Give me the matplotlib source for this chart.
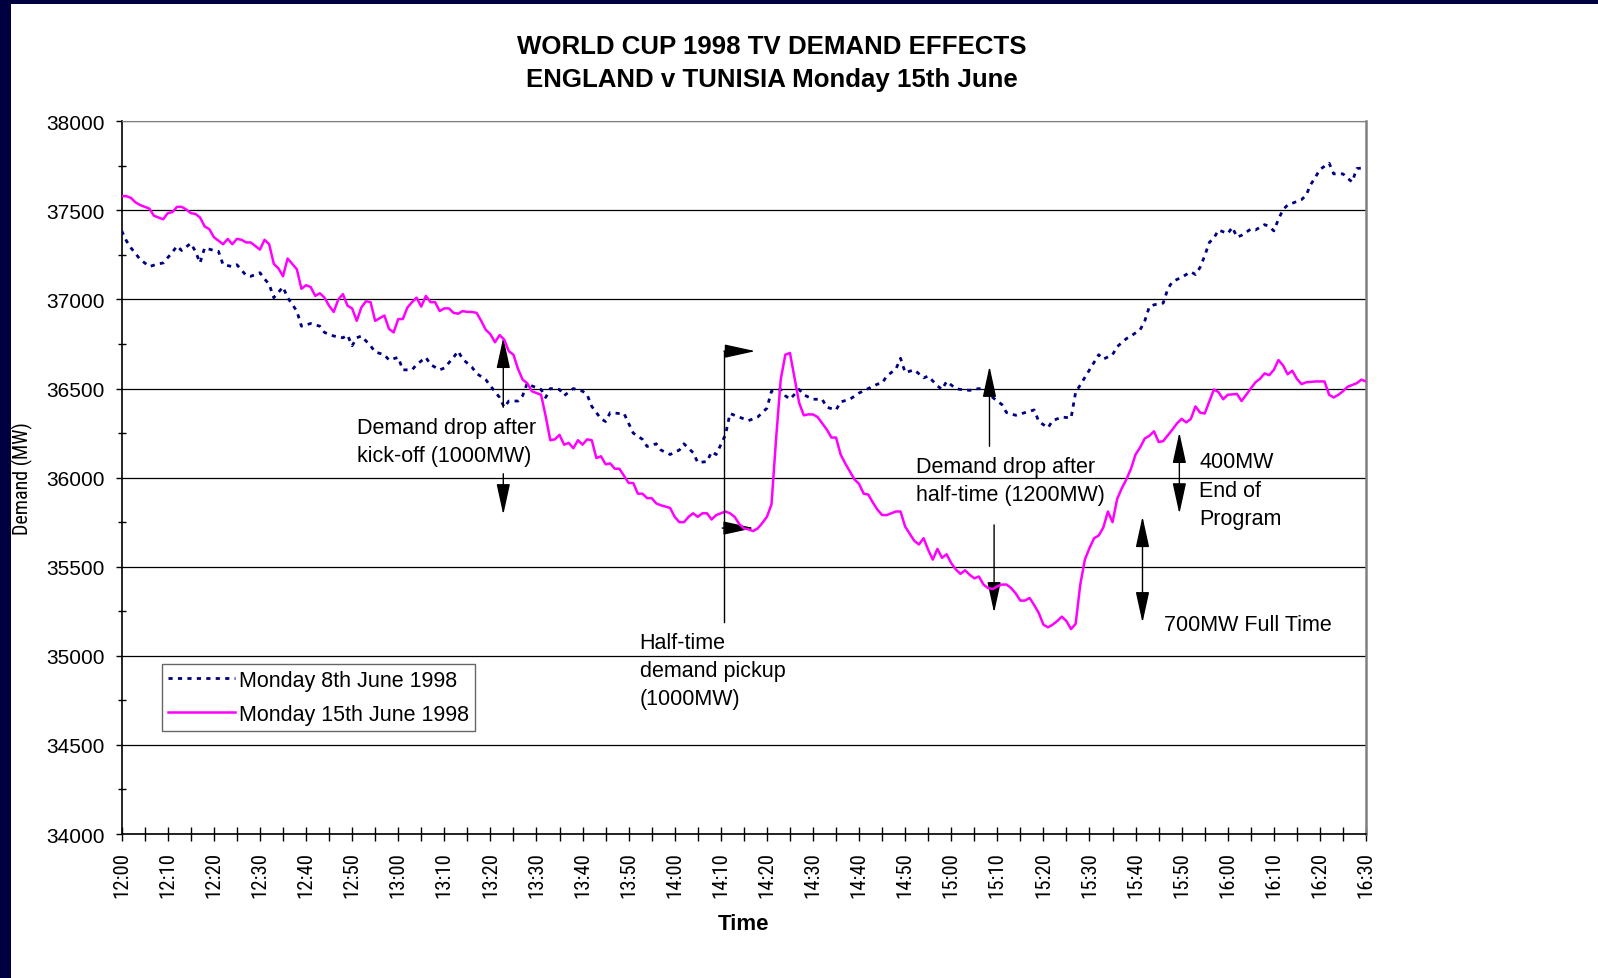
import matplotlib
matplotlib.use("Agg")
import matplotlib.pyplot as plt
from matplotlib import font_manager
from matplotlib.patches import Rectangle
from matplotlib.ticker import MultipleLocator

# minutes after 12:00 and demand (MW)
t_8th = [0, 1, 2, 4, 6, 8, 9, 11, 12, 13, 15, 16, 17, 18, 20, 21, 22, 24, 25, 27,
         28, 30, 31, 32, 33, 35, 36, 38, 39, 41, 43, 44, 46, 48, 49, 50, 51, 52, 54, 55,
         57, 58, 60, 61, 63, 64, 66, 67, 69, 70, 72, 73, 74, 76, 77, 79, 80, 82, 83, 84,
         86, 87, 88, 89, 91, 92, 93, 95, 96, 98, 100, 101, 102, 104, 105, 106, 108, 109, 111, 113,
         114, 116, 117, 119, 121, 122, 124, 125, 127, 128, 129, 130, 131, 132, 134, 136, 138, 140, 141, 143,
         144, 145, 147, 148, 150, 152, 153, 155, 156, 158, 160, 162, 164, 165, 166, 168, 169, 170, 172, 174,
         175, 177, 178, 179, 181, 182, 184, 186, 188, 189, 191, 192, 194, 196, 198, 199, 201, 202, 204, 206,
         207, 208, 210, 212, 213, 215, 216, 218, 219, 221, 222, 223, 224, 226, 227, 228, 230, 232, 233, 234,
         235, 236, 237, 238, 240, 241, 242, 243, 245, 246, 248, 249, 250, 251, 252, 253, 255, 256, 257, 258,
         259, 260, 262, 263, 265, 266, 267, 268, 270]
v_8th = [37385, 37330, 37290, 37225, 37185, 37200, 37205, 37265, 37300, 37275, 37315, 37270, 37205, 37290, 37275, 37270, 37195, 37185, 37195, 37135,
         37130, 37150, 37115, 37085, 37010, 37070, 37010, 36935, 36850, 36865, 36850, 36815, 36795, 36785, 36800, 36740, 36785, 36795, 36740, 36705,
         36690, 36660, 36675, 36605, 36605, 36635, 36675, 36635, 36605, 36615, 36675, 36710, 36665, 36620, 36585, 36550, 36515, 36450, 36395, 36430,
         36430, 36460, 36530, 36515, 36495, 36450, 36500, 36495, 36460, 36500, 36485, 36465, 36400, 36330, 36315, 36365, 36360, 36360, 36250, 36215,
         36175, 36190, 36155, 36130, 36155, 36190, 36140, 36085, 36090, 36145, 36130, 36185, 36240, 36360, 36340, 36320, 36340, 36390, 36485, 36495,
         36460, 36440, 36495, 36465, 36440, 36440, 36395, 36380, 36425, 36440, 36475, 36500, 36525, 36530, 36570, 36610, 36670, 36590, 36605, 36560,
         36570, 36515, 36495, 36540, 36500, 36495, 36490, 36500, 36485, 36450, 36410, 36365, 36350, 36365, 36380, 36315, 36280, 36320, 36340, 36335,
         36480, 36520, 36605, 36690, 36665, 36690, 36735, 36780, 36795, 36830, 36880, 36960, 36970, 36980, 37060, 37100, 37125, 37155, 37140, 37180,
         37245, 37320, 37345, 37390, 37370, 37405, 37350, 37360, 37395, 37390, 37420, 37410, 37385, 37450, 37505, 37530, 37550, 37560, 37585, 37645,
         37685, 37730, 37765, 37705, 37705, 37680, 37660, 37735, 37740]

t_15th = [0, 1, 2, 3, 4, 6, 7, 9, 10, 11, 12, 13, 14, 15, 16, 17, 18, 19, 20, 22,
          23, 24, 25, 26, 27, 28, 30, 31, 32, 33, 34, 35, 36, 37, 38, 39, 40, 41, 42, 43,
          44, 45, 46, 47, 48, 49, 50, 51, 52, 53, 54, 55, 56, 57, 58, 59, 60, 61, 62, 63,
          64, 65, 66, 67, 68, 69, 70, 71, 72, 73, 74, 75, 76, 77, 78, 79, 80, 81, 82, 83,
          84, 85, 86, 87, 88, 89, 90, 91, 92, 93, 94, 95, 96, 97, 98, 99, 100, 101, 102, 103,
          104, 105, 106, 107, 108, 109, 110, 111, 112, 113, 114, 115, 116, 117, 119, 120, 121, 122, 123, 124,
          125, 126, 127, 128, 129, 130, 131, 132, 133, 134, 135, 136, 137, 138, 139, 140, 141, 142, 143, 144,
          145, 146, 147, 148, 149, 150, 151, 152, 153, 154, 155, 156, 157, 158, 159, 160, 161, 162, 163, 164,
          165, 166, 167, 168, 169, 170, 172, 173, 174, 175, 176, 177, 178, 179, 180, 181, 182, 183, 184, 185,
          186, 187, 188, 189, 190, 191, 192, 193, 194, 195, 196, 197, 198, 199, 200, 201, 202, 203, 204, 205,
          206, 207, 208, 209, 210, 211, 212, 213, 214, 215, 216, 217, 218, 219, 220, 221, 222, 223, 224, 225,
          226, 228, 229, 230, 231, 232, 233, 234, 235, 237, 238, 239, 240, 242, 243, 244, 246, 247, 248, 249,
          250, 251, 252, 253, 254, 255, 256, 257, 259, 260, 261, 262, 263, 264, 265, 266, 268, 269, 270]
v_15th = [37580, 37580, 37570, 37545, 37530, 37510, 37470, 37450, 37485, 37490, 37520, 37520, 37505, 37485, 37480, 37460, 37410, 37395, 37350, 37310,
          37340, 37310, 37340, 37335, 37320, 37320, 37280, 37335, 37310, 37200, 37175, 37130, 37230, 37200, 37170, 37060, 37080, 37070, 37020, 37035,
          37010, 36965, 36930, 37000, 37030, 36965, 36950, 36880, 36955, 36990, 36985, 36880, 36895, 36910, 36835, 36815, 36890, 36890, 36955, 36985,
          37010, 36960, 37020, 36985, 36985, 36935, 36950, 36950, 36925, 36920, 36935, 36930, 36930, 36925, 36880, 36830, 36805, 36760, 36800, 36775,
          36710, 36690, 36610, 36550, 36530, 36485, 36475, 36465, 36345, 36210, 36215, 36240, 36185, 36195, 36165, 36210, 36185, 36215, 36210, 36110,
          36120, 36075, 36080, 36050, 36050, 36010, 35970, 35970, 35910, 35910, 35885, 35885, 35855, 35845, 35830, 35780, 35750, 35750, 35780, 35800,
          35780, 35800, 35800, 35765, 35790, 35800, 35810, 35800, 35780, 35740, 35715, 35710, 35700, 35715, 35745, 35780, 35850, 36220, 36550, 36690,
          36700, 36560, 36420, 36350, 36355, 36355, 36340, 36305, 36270, 36225, 36225, 36130, 36080, 36035, 35990, 35965, 35910, 35905, 35860, 35820,
          35790, 35790, 35800, 35810, 35810, 35725, 35645, 35625, 35660, 35595, 35540, 35600, 35550, 35570, 35520, 35485, 35460, 35480, 35455, 35435,
          35445, 35400, 35380, 35375, 35390, 35400, 35400, 35380, 35350, 35310, 35310, 35325, 35285, 35240, 35175, 35160, 35175, 35195, 35220, 35195,
          35150, 35180, 35400, 35540, 35605, 35660, 35675, 35720, 35810, 35750, 35880, 35940, 35990, 36050, 36130, 36170, 36220, 36235, 36260, 36200,
          36205, 36270, 36305, 36330, 36310, 36330, 36400, 36365, 36360, 36495, 36480, 36440, 36465, 36470, 36430, 36465, 36535, 36555, 36585, 36575,
          36605, 36660, 36630, 36580, 36600, 36555, 36525, 36535, 36540, 36540, 36540, 36465, 36450, 36465, 36485, 36510, 36530, 36550, 36540]

tick_minutes = list(range(0, 271, 10))
tick_labels = ['12:00', '12:10', '12:20', '12:30', '12:40', '12:50', '13:00', '13:10', '13:20', '13:30',
               '13:40', '13:50', '14:00', '14:10', '14:20', '14:30', '14:40', '14:50', '15:00', '15:10',
               '15:20', '15:30', '15:40', '15:50', '16:00', '16:10', '16:20', '16:30']

# pick a narrow face if one is installed, otherwise plain sans
entries = font_manager.fontManager.ttflist
names = {f.name for f in entries}
base = 'Liberation Sans' if 'Liberation Sans' in names else 'DejaVu Sans'
narrow = dict(family=base)
for cand in ['Liberation Sans Narrow', 'Arial Narrow', 'Roboto Condensed', 'Open Sans Condensed',
             'Noto Sans Condensed', 'DejaVu Sans Condensed']:
    if cand in names:
        narrow = dict(family=cand)
        break
else:
    for f in entries:
        if f.name in ('Liberation Sans', 'Roboto', 'Noto Sans', 'Open Sans', 'DejaVu Sans') \
                and str(f.stretch) in ('condensed', 'semi-condensed') and f.weight in (400, 'normal', 'regular'):
            narrow = dict(family=f.name, stretch=f.stretch)
            break
plt.rcParams['font.family'] = [base, 'DejaVu Sans']

W, H = 1598, 979
fig = plt.figure(figsize=(W / 100, H / 100), dpi=100, facecolor='#000040')
fig.patches.append(Rectangle((11 / W, 0), 1, 1 - 5 / H, transform=fig.transFigure,
                             facecolor='white', edgecolor='none', zorder=-10))
renderer = fig.canvas.get_renderer()


def fit_size(s, target_px, **kw):
    probe = fig.text(0, 0, s, fontsize=10, **kw)
    w = probe.get_window_extent(renderer).width
    probe.remove()
    return 10 * target_px / w


xtick_fs = min(15, fit_size('12:00', 46, **narrow))
ylab_fs = min(15, fit_size('Demand (MW)', 113, **narrow))

ax = fig.add_axes([121.7 / W, 1 - 835 / H, (1366 - 121.7) / W, (835 - 122.3) / H])
ax.set_zorder(1)
ax.set_facecolor('white')

ax.plot(t_8th, v_8th, color='#000080', lw=2.0, linestyle=(0, (1.5, 1.9)),
        label='Monday 8th June 1998', zorder=3)
ax.plot(t_15th, v_15th, color='#ff00ff', lw=1.8, label='Monday 15th June 1998', zorder=4)

ax.set_xlim(0, 270)
ax.set_ylim(34000, 38000)
ax.set_xticks(tick_minutes)
ax.set_xticklabels(tick_labels, rotation=90, fontsize=xtick_fs, **narrow)
ax.xaxis.set_minor_locator(MultipleLocator(5))
ax.yaxis.set_major_locator(MultipleLocator(500))
ax.yaxis.set_minor_locator(MultipleLocator(250))
ax.tick_params(axis='x', which='both', direction='inout', length=10, width=1, pad=7)
ax.tick_params(axis='y', which='major', direction='out', length=4.3, width=1, pad=8, labelsize=15)
ax.tick_params(axis='y', which='minor', direction='inout', length=6, width=1)

ax.grid(axis='y', which='major', color='black', lw=0.9, zorder=1)
ax.set_axisbelow(True)
ax.spines['left'].set_linewidth(1.2)
ax.spines['bottom'].set_linewidth(1.2)
ax.spines['top'].set_color('#808080')
ax.spines['right'].set_color('#808080')
ax.spines['right'].set_linewidth(1.8)

fig.text(772 / W, 1 - 47 / H, 'WORLD CUP 1998 TV DEMAND EFFECTS', ha='center', va='center',
         fontsize=18.6, fontweight='bold')
fig.text(772 / W, 1 - 80 / H, 'ENGLAND v TUNISIA Monday 15th June', ha='center', va='center',
         fontsize=18.6, fontweight='bold')
fig.text(744 / W, 1 - 925 / H, 'Time', ha='center', va='center', fontsize=16, fontweight='bold')
fig.text(22.4 / W, 1 - 479 / H, 'Demand (MW)', ha='center', va='center', rotation=90,
         fontsize=ylab_fs, **narrow)

leg = ax.legend(loc='upper left', bbox_to_anchor=(162 / W, 1 - 665 / H),
                bbox_transform=fig.transFigure, fontsize=15.5, frameon=True, fancybox=False,
                handlelength=3.1, handletextpad=0.2, labelspacing=0.6, borderpad=0.28,
                borderaxespad=0)
leg.get_frame().set_edgecolor('#404040')
leg.get_frame().set_linewidth(1.0)

fs = 15.5
ax.text(51, 36205, 'Demand drop after\nkick-off (1000MW)', fontsize=fs, va='center', ha='left',
        linespacing=1.45)
ax.text(112.4, 34918, 'Half-time\ndemand pickup\n(1000MW)', fontsize=fs, va='center', ha='left',
        linespacing=1.45)
ax.text(172.4, 35985, 'Demand drop after\nhalf-time (1200MW)', fontsize=fs, va='center', ha='left',
        linespacing=1.45)
ax.text(233.8, 35930, '400MW\nEnd of\nProgram', fontsize=fs, va='center', ha='left',
        linespacing=1.45)
ax.text(226.2, 35175, '700MW Full Time', fontsize=fs, va='center', ha='left')

one = dict(arrowstyle='-|>,head_length=1.6,head_width=0.35', color='black', lw=1.0,
           shrinkA=0, shrinkB=0, mutation_scale=12)
two = dict(arrowstyle='<|-|>,head_length=1.6,head_width=0.35', color='black', lw=1.0,
           shrinkA=0, shrinkB=0, mutation_scale=12)

# kick-off
ax.annotate('', xy=(82.8, 36787), xytext=(82.8, 36395), arrowprops=one)
ax.annotate('', xy=(82.8, 35792), xytext=(82.8, 36022), arrowprops=one)
# half-time pickup flag
ax.plot([130.7, 130.7], [35192, 36710], color='black', lw=1.0, zorder=5)
ax.annotate('', xy=(137.5, 36710), xytext=(130.7, 36710), arrowprops=one)
ax.annotate('', xy=(137.2, 35717), xytext=(130.3, 35717), arrowprops=one)
# after half-time
ax.annotate('', xy=(188.3, 36625), xytext=(188.3, 36176), arrowprops=one)
ax.annotate('', xy=(189.3, 35242), xytext=(189.3, 35735), arrowprops=one)
# end of program / full time
ax.annotate('', xy=(229.5, 36254), xytext=(229.5, 35797), arrowprops=two)
ax.annotate('', xy=(221.5, 35782), xytext=(221.5, 35186), arrowprops=two)

fig.savefig('out.png', dpi=100, facecolor=fig.get_facecolor())
